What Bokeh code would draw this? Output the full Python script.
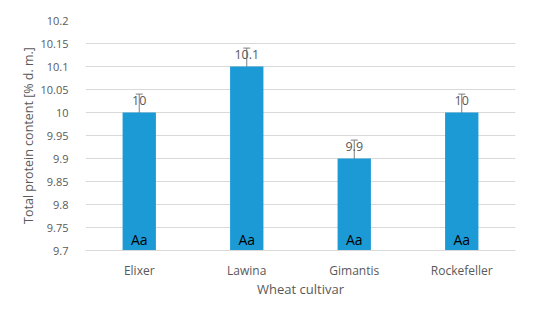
from bokeh.plotting import figure
from bokeh.models import ColumnDataSource, FactorRange, Range1d, Whisker, TeeHead, LabelSet, FixedTicker
from bokeh.core.properties import value
from bokeh.embed import file_html
from bokeh.resources import INLINE

cultivars = ["Elixer", "Lawina", "Gimantis", "Rockefeller"]
protein = [10.0, 10.1, 9.9, 10.0]
errors = [0.04, 0.04, 0.04, 0.04]
value_labels = ["10", "10.1", "9.9", "10"]
letters = ["Aa", "Aa", "Aa", "Aa"]
y_ticks = [9.7, 9.75, 9.8, 9.85, 9.9, 9.95, 10.0, 10.05, 10.1, 10.15, 10.2]
y_tick_labels = ["9.7", "9.75", "9.8", "9.85", "9.9", "9.95", "10", "10.05", "10.1", "10.15", "10.2"]
y_min, y_max = 9.7, 10.2

FONT = "Open Sans"
GRAY = "#595959"

src = ColumnDataSource(dict(
    x=cultivars, top=protein,
    upper=[v + e for v, e in zip(protein, errors)],
    lower=[v - e for v, e in zip(protein, errors)],
    vlab=value_labels, let=letters, base=[y_min] * len(cultivars),
))

W, H = 534, 318
p = figure(x_range=FactorRange(*cultivars), y_range=Range1d(y_min, y_max),
           width=W, height=H, output_backend="svg", toolbar_location=None,
           min_border_left=85, min_border_right=19, min_border_top=20, min_border_bottom=68)
p.outline_line_color = None
p.background_fill_color = "white"

p.vbar(x="x", top="top", bottom=y_min, width=0.31, source=src,
       fill_color="#1b9ad6", line_color=None)

w = Whisker(base="x", upper="upper", lower="lower", source=src,
            line_color="#7f7f7f", line_width=1,
            upper_head=TeeHead(size=7, line_color="#7f7f7f", line_width=1),
            lower_head=TeeHead(size=7, line_color="#7f7f7f", line_width=1))
p.add_layout(w)

p.add_layout(LabelSet(x="x", y="top", text="vlab", source=src, y_offset=8,
                      text_align="center", text_baseline="bottom",
                      text_font=value(FONT), text_font_size="12.5px", text_color=GRAY))
p.add_layout(LabelSet(x="x", y="base", text="let", source=src, y_offset=2,
                      text_align="center", text_baseline="bottom",
                      text_font=value(FONT), text_font_size="14px", text_color="black"))

p.yaxis.ticker = FixedTicker(ticks=y_ticks)
p.yaxis.major_label_overrides = {t: l for t, l in zip(y_ticks, y_tick_labels)}
p.yaxis.axis_line_color = None
p.yaxis.major_tick_line_color = None
p.yaxis.minor_tick_line_color = None
p.yaxis.major_label_standoff = 11
p.yaxis.major_label_text_font = FONT
p.yaxis.major_label_text_font_size = "11px"
p.yaxis.major_label_text_color = GRAY
p.yaxis.axis_label = "Total protein content [% d. m.]"
p.yaxis.axis_label_text_font = FONT
p.yaxis.axis_label_text_font_size = "12.5px"
p.yaxis.axis_label_text_font_style = "normal"
p.yaxis.axis_label_text_color = GRAY
p.yaxis.axis_label_standoff = 0

p.xaxis.axis_line_color = "#d9d9d9"
p.xaxis.major_tick_line_color = None
p.xaxis.minor_tick_line_color = None
p.xaxis.major_label_standoff = 5
p.xaxis.major_label_text_font = FONT
p.xaxis.major_label_text_font_size = "12px"
p.xaxis.major_label_text_color = GRAY
p.xaxis.axis_label = "Wheat cultivar"
p.xaxis.axis_label_text_font = FONT
p.xaxis.axis_label_text_font_size = "13px"
p.xaxis.axis_label_text_font_style = "normal"
p.xaxis.axis_label_text_color = GRAY
p.xaxis.axis_label_standoff = -2

p.xgrid.grid_line_color = None
p.ygrid.grid_line_color = "#d9d9d9"
p.ygrid.grid_line_width = 1

open("out.html", "w").write(file_html(p, INLINE))
